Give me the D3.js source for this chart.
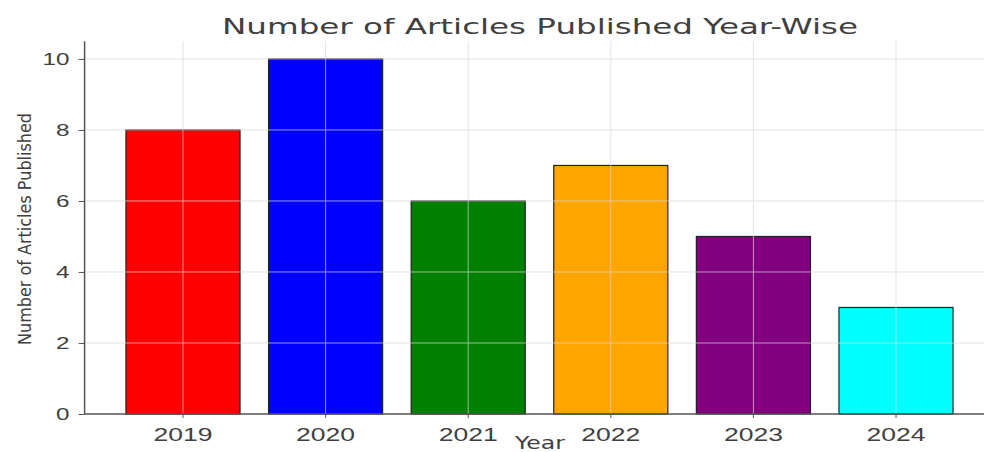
<!DOCTYPE html>
<html>
<head>
<meta charset="utf-8">
<script src="https://cdn.jsdelivr.net/npm/d3@7/dist/d3.min.js"></script>
<style>
  html, body { margin: 0; padding: 0; background: #fff; }
  svg { display: block; font-family: "DejaVu Sans", sans-serif; }
</style>
</head>
<body>
<svg id="chart" width="984" height="452"></svg>
<script>
// Articles published per year
const years = ["2019", "2020", "2021", "2022", "2023", "2024"];
const articles = [8, 10, 6, 7, 5, 3];
const barColors = ["red", "blue", "green", "orange", "purple", "cyan"];
const yTicks = [0, 2, 4, 6, 8, 10];

const svg = d3.select("#chart");
const plotLeft = 84.6, plotBottom = 414, plotTop = 41.2;
const plotRight = 994.4; // axis runs past the visible canvas edge

const x = d3.scaleBand()
  .domain(years)
  .range([plotLeft, plotRight])
  .paddingInner(0.2)
  .paddingOuter(0.29);

const y = d3.scaleLinear().domain([0, 10.5]).range([plotBottom, plotTop]);

const textColor = "#404040";

// bars
svg.append("g").selectAll("rect")
  .data(years.map((yr, i) => ({ yr, v: articles[i], c: barColors[i] })))
  .join("rect")
  .attr("x", d => x(d.yr))
  .attr("y", d => y(d.v))
  .attr("width", x.bandwidth())
  .attr("height", d => y(0) - y(d.v))
  .attr("fill", d => d.c)
  .attr("stroke", "#222")
  .attr("stroke-width", 1.2);

// grid drawn over the bars, faint
const grid = svg.append("g").attr("stroke", "#d8d8d8").attr("stroke-width", 1).attr("opacity", 0.7);
grid.selectAll("line.h")
  .data(yTicks.filter(t => t > 0))
  .join("line")
  .attr("class", "h")
  .attr("x1", plotLeft).attr("x2", plotRight)
  .attr("y1", d => y(d)).attr("y2", d => y(d));
grid.selectAll("line.v")
  .data(years)
  .join("line")
  .attr("class", "v")
  .attr("x1", d => x(d) + x.bandwidth() / 2).attr("x2", d => x(d) + x.bandwidth() / 2)
  .attr("y1", plotTop).attr("y2", plotBottom);

// y axis
const yAxis = svg.append("g")
  .attr("transform", `translate(${plotLeft},0)`)
  .call(d3.axisLeft(y).tickValues(yTicks).tickSize(6).tickPadding(9).tickFormat(d3.format("d")));
yAxis.select(".domain").attr("stroke", "#555").attr("stroke-width", 1.5)
  .attr("d", `M0,${plotBottom}V${plotTop}`);
yAxis.selectAll(".tick line").attr("stroke", "#555");
yAxis.selectAll(".tick text")
  .attr("fill", textColor)
  .style("font-size", "16.5px")
  .attr("dy", "0.36em")
  .attr("textLength", d => String(d).length * 13.5)
  .attr("lengthAdjust", "spacingAndGlyphs");

// x axis
const xAxis = svg.append("g")
  .attr("transform", `translate(0,${plotBottom})`)
  .call(d3.axisBottom(x).tickSize(4).tickPadding(5));
xAxis.select(".domain").attr("stroke", "#555").attr("stroke-width", 1.5)
  .attr("d", `M${plotLeft},0H${plotRight}`);
xAxis.selectAll(".tick line").attr("stroke", "#555");
xAxis.selectAll(".tick text")
  .attr("fill", textColor)
  .style("font-size", "18.5px")
  .attr("dy", "0.95em")
  .attr("textLength", 59)
  .attr("lengthAdjust", "spacingAndGlyphs");

// title
svg.append("text")
  .attr("x", 540).attr("y", 34)
  .attr("text-anchor", "middle")
  .attr("fill", textColor)
  .style("font-size", "20.5px")
  .attr("textLength", 636)
  .attr("lengthAdjust", "spacingAndGlyphs")
  .text("Number of Articles Published Year-Wise");

// axis labels
svg.append("text")
  .attr("x", 540).attr("y", 449)
  .attr("text-anchor", "middle")
  .attr("fill", textColor)
  .style("font-size", "17px")
  .attr("textLength", 50)
  .attr("lengthAdjust", "spacingAndGlyphs")
  .text("Year");

svg.append("text")
  .attr("transform", "translate(31,229) rotate(-90)")
  .attr("text-anchor", "middle")
  .attr("fill", textColor)
  .style("font-size", "17.5px")
  .attr("textLength", 232)
  .attr("lengthAdjust", "spacingAndGlyphs")
  .text("Number of Articles Published");
</script>
</body>
</html>
